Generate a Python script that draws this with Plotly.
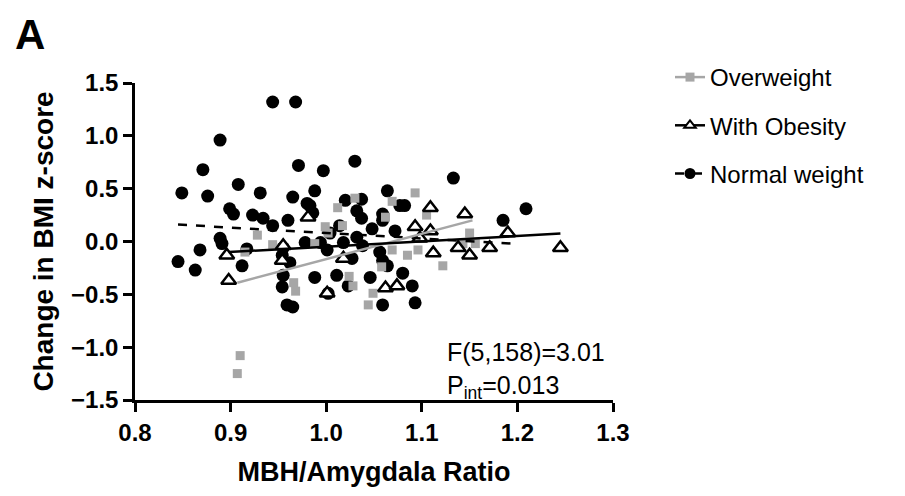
import plotly.graph_objects as go

# ---- data ----
normal_x = [0.944, 0.968, 0.889, 0.871, 0.849, 0.876, 0.908, 0.931, 0.971, 0.997,
            0.965, 0.988, 0.980, 0.899, 0.903, 0.923, 0.934, 0.944, 0.960, 0.983,
            0.986, 1.030, 1.020, 1.037, 1.064, 1.077, 1.133, 1.209, 1.185, 0.889,
            0.891, 0.868, 0.845, 0.863, 0.912, 0.917, 0.955, 0.954, 0.959, 0.965,
            1.032, 1.037, 1.059, 1.048, 1.072, 1.032, 1.018, 1.038, 1.056, 1.014,
            1.004, 0.978, 1.001, 0.994, 0.962, 0.955, 0.988, 1.011, 1.023, 1.046,
            1.064, 1.080, 1.090, 1.002, 1.059, 1.093, 1.059, 1.027, 1.059, 0.954,
            1.082]
normal_y = [1.32, 1.32, 0.96, 0.68, 0.46, 0.43, 0.54, 0.46, 0.72, 0.67,
            0.42, 0.48, 0.36, 0.31, 0.26, 0.25, 0.22, 0.15, 0.20, 0.34,
            0.27, 0.76, 0.39, 0.40, 0.48, 0.34, 0.60, 0.31, 0.20, 0.03,
            -0.02, -0.08, -0.19, -0.27, -0.23, -0.07, -0.06, -0.43, -0.60, -0.62,
            0.29, 0.22, 0.20, 0.12, 0.10, 0.04, -0.01, -0.04, -0.10, 0.15,
            0.08, -0.01, -0.08, -0.01, -0.20, -0.32, -0.34, -0.32, -0.42, -0.34,
            -0.23, -0.30, -0.42, -0.49, -0.60, -0.58, 0.26, -0.16, -0.18, -0.13,
            0.34]

over_x = [0.910, 0.907, 0.928, 0.944, 0.915, 0.966, 0.968, 0.999, 1.002, 0.988,
          1.012, 1.030, 1.069, 1.093, 1.062, 1.017, 1.105, 1.069, 1.085, 1.096,
          1.122, 1.058, 1.024, 1.028, 1.049, 1.044, 1.150, 1.156, 1.143]
over_y = [-1.08, -1.25, 0.06, -0.03, -0.10, -0.39, -0.47, 0.14, 0.08, -0.02,
          0.32, 0.41, 0.38, 0.46, 0.23, 0.15, 0.25, -0.08, -0.13, -0.08,
          -0.23, -0.24, -0.33, -0.42, -0.49, -0.60, 0.08, -0.02, -0.02]

obese_x = [0.896, 0.898, 0.954, 0.955, 0.981, 1.001, 1.018, 1.062, 1.074, 1.093,
           1.109, 1.109, 1.112, 1.098, 1.138, 1.145, 1.150, 1.171, 1.190, 1.245]
obese_y = [-0.13, -0.37, -0.18, -0.04, 0.23, -0.49, -0.16, -0.44, -0.42, 0.14,
           0.32, 0.10, -0.11, 0.03, -0.06, 0.26, -0.13, -0.06, 0.08, -0.06]

# regression line end points
over_fit_x = [0.907, 1.153]
over_fit_y = [-0.39, 0.20]
obese_fit_x = [0.898, 1.245]
obese_fit_y = [-0.10, 0.075]
normal_fit_x = [0.845, 1.195]
normal_fit_y = [0.16, -0.02]

x_ticks = [0.8, 0.9, 1.0, 1.1, 1.2, 1.3]
y_ticks = [-1.5, -1.0, -0.5, 0.0, 0.5, 1.0, 1.5]

GRAY = "#a6a6a6"
FONT = "Liberation Sans, Arial, sans-serif"

fig = go.Figure()

fig.add_trace(go.Scatter(x=normal_x, y=normal_y, mode="markers", showlegend=False,
                         marker=dict(symbol="circle", size=13, color="black")))
fig.add_trace(go.Scatter(x=over_x, y=over_y, mode="markers", showlegend=False,
                         marker=dict(symbol="square", size=9, color=GRAY)))
fig.add_trace(go.Scatter(x=obese_x, y=obese_y, mode="markers", showlegend=False,
                         marker=dict(symbol="triangle-up", size=13, color="white",
                                     line=dict(color="black", width=2.5))))

fig.add_trace(go.Scatter(x=normal_fit_x, y=normal_fit_y, mode="lines", showlegend=False,
                         line=dict(color="black", width=2.5, dash="dash")))
fig.add_trace(go.Scatter(x=over_fit_x, y=over_fit_y, mode="lines", showlegend=False,
                         line=dict(color=GRAY, width=2.5)))
fig.add_trace(go.Scatter(x=obese_fit_x, y=obese_fit_y, mode="lines", showlegend=False,
                         line=dict(color="black", width=2.5)))

# legend entries
fig.add_trace(go.Scatter(x=[None], y=[None], mode="lines+markers", name="Overweight",
                         legendgroup="a", legendrank=1,
                         line=dict(color=GRAY, width=2.5),
                         marker=dict(symbol="square", size=9, color=GRAY)))
fig.add_trace(go.Scatter(x=[None], y=[None], mode="lines+markers", name="With Obesity",
                         legendgroup="b", legendrank=2,
                         line=dict(color="black", width=2.5),
                         marker=dict(symbol="triangle-up", size=10, color="white",
                                     line=dict(color="black", width=2))))
fig.add_trace(go.Scatter(x=[None], y=[None], mode="lines+markers", name="Normal weight",
                         legendgroup="c", legendrank=3,
                         line=dict(color="black", width=2.5, dash="dash"),
                         marker=dict(symbol="circle", size=11, color="black")))

axis_common = dict(showgrid=False, zeroline=False, showline=True, linecolor="black",
                   linewidth=2.5, ticks="outside", ticklen=9, tickwidth=2.5,
                   tickcolor="black",
                   tickfont=dict(family=FONT, size=24, color="black", weight="bold"))

fig.update_xaxes(range=[0.8, 1.3], tickvals=x_ticks, tickformat=".1f",
                 title=dict(text="MBH/Amygdala Ratio", standoff=18,
                            font=dict(family=FONT, size=27, color="black", weight="bold")),
                 **axis_common)
fig.update_yaxes(range=[-1.5, 1.5], tickvals=y_ticks, tickformat=".1f",
                 title=dict(text="Change in BMI z-score", standoff=10,
                            font=dict(family=FONT, size=28, color="black", weight="bold")),
                 **axis_common)

fig.add_annotation(xref="paper", yref="paper", x=(445 - 135) / 478, y=(400 - 336) / 317,
                   xanchor="left", yanchor="top", align="left", showarrow=False,
                   text="F(5,158)=3.01<br>P<sub>int</sub>=0.013",
                   font=dict(family=FONT, size=25, color="black"))
fig.add_annotation(xref="paper", yref="paper", x=-121 / 317 * 317 / 478, y=1 + 73 / 317,
                   xanchor="left", yanchor="top", showarrow=False, text="A", borderpad=0,
                   font=dict(family=FONT, size=42, color="black", weight="bold"))

fig.update_layout(
    width=905, height=496,
    margin=dict(l=127, r=300, t=75, b=104, autoexpand=False),
    paper_bgcolor="white", plot_bgcolor="white",
    showlegend=True,
    legend=dict(x=(670 - 135) / 478, y=(400 - 55) / 317, xanchor="left", yanchor="top",
                font=dict(family=FONT, size=24, color="black"),
                tracegroupgap=14, bgcolor="rgba(0,0,0,0)"),
)

fig.write_html("out.html")
